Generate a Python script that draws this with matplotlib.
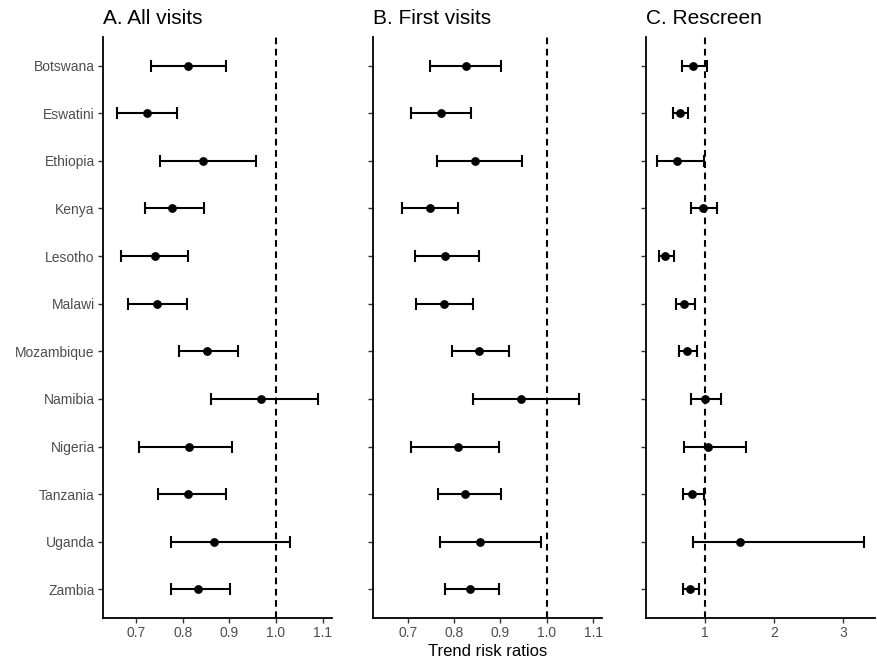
import matplotlib.pyplot as plt
import numpy as np

plt.rcParams['font.family'] = ['Liberation Sans', 'DejaVu Sans']

countries = ['Botswana', 'Eswatini', 'Ethiopia', 'Kenya', 'Lesotho', 'Malawi',
             'Mozambique', 'Namibia', 'Nigeria', 'Tanzania', 'Uganda', 'Zambia']

# A. All visits
all_est = [0.811, 0.723, 0.843, 0.778, 0.740, 0.744, 0.852, 0.968, 0.814, 0.811, 0.866, 0.833]
all_lo = [0.731, 0.658, 0.752, 0.719, 0.667, 0.683, 0.792, 0.860, 0.707, 0.746, 0.775, 0.775]
all_hi = [0.892, 0.787, 0.957, 0.845, 0.811, 0.809, 0.919, 1.090, 0.906, 0.893, 1.029, 0.901]

# B. First visits
first_est = [0.826, 0.772, 0.846, 0.749, 0.780, 0.778, 0.854, 0.944, 0.809, 0.824, 0.856, 0.834]
first_lo = [0.749, 0.707, 0.763, 0.688, 0.716, 0.718, 0.795, 0.841, 0.706, 0.765, 0.770, 0.781]
first_hi = [0.902, 0.836, 0.947, 0.809, 0.853, 0.841, 0.919, 1.069, 0.896, 0.902, 0.988, 0.896]

# C. Rescreen
re_est = [0.833, 0.646, 0.607, 0.977, 0.430, 0.708, 0.747, 1.000, 1.053, 0.823, 1.509, 0.794]
re_lo = [0.675, 0.545, 0.315, 0.804, 0.344, 0.583, 0.626, 0.804, 0.708, 0.688, 0.833, 0.683]
re_hi = [1.029, 0.765, 0.990, 1.178, 0.560, 0.866, 0.895, 1.235, 1.600, 0.986, 3.302, 0.924]

panels = [
    ('A. All visits', all_est, all_lo, all_hi, (0.629, 1.12), [0.7, 0.8, 0.9, 1.0, 1.1], ['0.7', '0.8', '0.9', '1.0', '1.1']),
    ('B. First visits', first_est, first_lo, first_hi, (0.625, 1.119), [0.7, 0.8, 0.9, 1.0, 1.1], ['0.7', '0.8', '0.9', '1.0', '1.1']),
    ('C. Rescreen', re_est, re_lo, re_hi, (0.157, 3.456), [1, 2, 3], ['1', '2', '3']),
]

W, H = 877, 659
fig = plt.figure(figsize=(W / 100, H / 100), dpi=100)
boxes = [(103, 332), (373, 602), (646, 875)]
top, bottom = 37, 618

ypos = np.arange(len(countries))[::-1]

for i, (title, est, lo, hi, xlim, ticks, ticklabels) in enumerate(panels):
    x0, x1 = boxes[i]
    ax = fig.add_axes([x0 / W, 1 - bottom / H, (x1 - x0) / W, (bottom - top) / H])
    est = np.array(est)
    err = [est - np.array(lo), np.array(hi) - est]
    ax.axvline(1, color='black', linestyle=(0, (3.2, 2.2)), linewidth=1.5, zorder=1)
    ax.errorbar(est, ypos, xerr=err, fmt='o', color='black', ms=5.3,
                elinewidth=1.5, capsize=4.3, capthick=1.5, zorder=3)
    ax.set_xlim(*xlim)
    ax.set_ylim(-0.6, len(countries) - 0.4)
    ax.set_xticks(ticks)
    ax.set_xticklabels(ticklabels)
    ax.set_yticks(ypos)
    if i == 0:
        ax.set_yticklabels(countries)
    else:
        ax.set_yticklabels([])
    if i == 1:
        ax.set_xlabel('Trend risk ratios', fontsize=12, labelpad=3)
    ax.set_title(title, loc='left', fontsize=15, pad=9)
    for s in ['top', 'right']:
        ax.spines[s].set_visible(False)
    for s in ['left', 'bottom']:
        ax.spines[s].set_linewidth(1.3)
    ax.tick_params(axis='both', labelsize=10, labelcolor='#4d4d4d', length=3.5,
                   width=1.0, color='#333333', pad=2.5)

fig.savefig('out.png', dpi=100)
